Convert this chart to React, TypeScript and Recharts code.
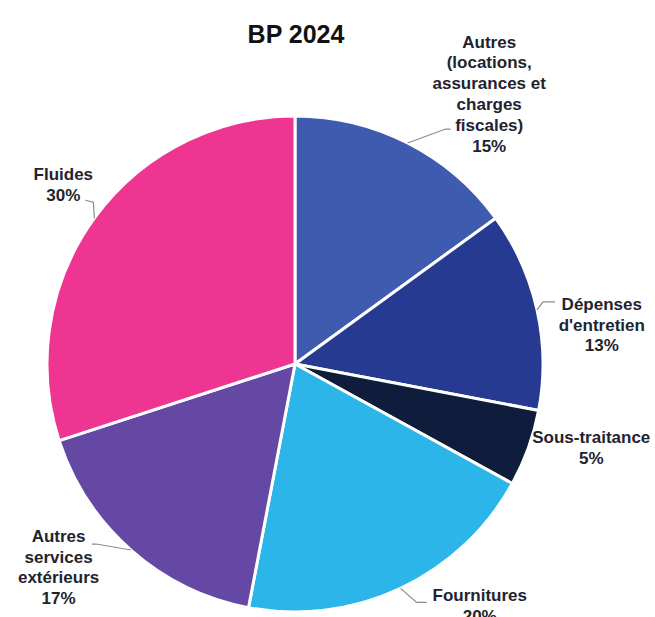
import { PieChart, Pie, Cell } from 'recharts'

// ─── Data ────────────────────────────────────────────────────────────────────

const CATEGORIES = [
  'Autres (locations, assurances et charges fiscales)',
  "Dépenses d'entretien",
  'Sous-traitance',
  'Fournitures',
  'Autres services extérieurs',
  'Fluides',
]
const SHARES = [15, 13, 5, 20, 17, 30]
const LABEL_LINES = [
  ['Autres', '(locations,', 'assurances et', 'charges', 'fiscales)'],
  ['Dépenses', "d'entretien"],
  ['Sous-traitance'],
  ['Fournitures'],
  ['Autres', 'services', 'extérieurs'],
  ['Fluides'],
]
const TITLE = 'BP 2024'

// ─── Style ───────────────────────────────────────────────────────────────────

const COLORS = ['#3F5BB0', '#263A92', '#0F1C3C', '#2BB5E8', '#6448A4', '#EE3592']
const FONT = '"Liberation Sans", Arial, sans-serif'
const LINE_H = 20.8
const LABEL_R = 300

// nudges of the text block from its polar anchor, and leader line bends from the rim
const NUDGE: [number, number][] = [[58, -3], [14, 26], [14, -18], [57, -30], [-38, -22], [11, -3]]
const LEADER: [number, number][][] = [
  [[38, -14], [43, -14]],
  [[6, -8], [18, -8]],
  [],
  [[16, 14], [26, 14]],
  [[-35, -6], [-39, -6]],
  [[-1, -16], [-9, -18]],
]

const data = CATEGORIES.map((name, i) => ({ name, value: SHARES[i] }))

const RAD = Math.PI / 180

function SliceLabel(props: any) {
  const { cx, cy, midAngle, outerRadius, index, value } = props
  const cos = Math.cos(-midAngle * RAD)
  const sin = Math.sin(-midAngle * RAD)
  const ex = cx + outerRadius * cos
  const ey = cy + outerRadius * sin
  const [nx, ny] = NUDGE[index]
  const lx = cx + LABEL_R * cos + nx
  const ly = cy + LABEL_R * sin + ny
  const lines = [...LABEL_LINES[index], `${value}%`]
  const top = ly - ((lines.length - 1) * LINE_H) / 2
  const bends = LEADER[index]
  const pts = [[ex, ey], ...bends.map(([dx, dy]) => [ex + dx, ey + dy])]
  return (
    <g>
      {bends.length > 0 && (
        <polyline
          points={pts.map(p => p.join(',')).join(' ')}
          fill="none"
          stroke="#8c8c8c"
          strokeWidth={1.2}
        />
      )}
      <text
        x={lx}
        y={top}
        textAnchor="middle"
        dominantBaseline="central"
        fontFamily={FONT}
        fontWeight="bold"
        fontSize={17}
        fill="#23232e"
      >
        {lines.map((t, k) => (
          <tspan key={k} x={lx} y={top + k * LINE_H}>{t}</tspan>
        ))}
      </text>
    </g>
  )
}

export default function App() {
  return (
    <div style={{ position: 'absolute', left: 0, top: 0, width: 655, height: 617, background: '#fff', overflow: 'hidden' }}>
      <div
        style={{
          position: 'absolute', left: 0, width: 592, top: 19, textAlign: 'center',
          fontFamily: FONT, fontWeight: 'bold', fontSize: 25, color: '#111', lineHeight: '30px',
        }}
      >
        {TITLE}
      </div>
      <PieChart
        width={655}
        height={617}
        margin={{ top: 0, right: 0, bottom: 0, left: 0 }}
        style={{ position: 'absolute', left: 0, top: 0 }}
      >
        <Pie
          data={data}
          dataKey="value"
          nameKey="name"
          cx={295}
          cy={364}
          outerRadius={248}
          startAngle={90}
          endAngle={-270}
          stroke="#ffffff"
          strokeWidth={3}
          label={SliceLabel}
          labelLine={false}
          isAnimationActive={false}
        >
          {data.map((d, i) => (
            <Cell key={d.name} fill={COLORS[i]} />
          ))}
        </Pie>
      </PieChart>
    </div>
  )
}
